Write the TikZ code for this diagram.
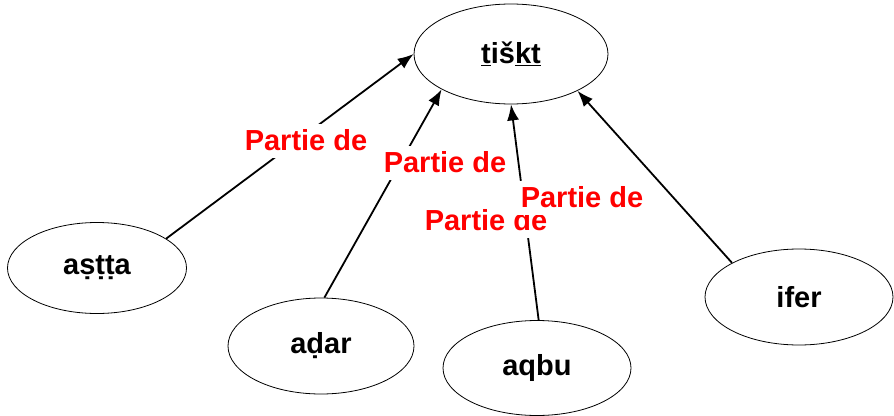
\documentclass[tikz,border=0pt]{standalone}
\usepackage{fontspec}
\setmainfont{Liberation Sans}
\usetikzlibrary{shapes.geometric,arrows.meta}

\begin{document}
\begin{tikzpicture}[x=1pt,y=-1pt,>={Latex[length=16pt,width=12pt]},
  mot/.style={ellipse,draw,line width=0.8pt,inner sep=0pt,font=\fontsize{29}{34}\selectfont\bfseries},
  lien/.style={->,line width=1.8pt},
  rel/.style={fill=white,text=red,inner xsep=4pt,inner ysep=5pt,text depth=3pt,font=\fontsize{29}{34}\selectfont\bfseries}]

\useasboundingbox (0,0) rectangle (894,415);

\node[mot,minimum width=194pt,minimum height=100pt] (tiskt) at (511,54) {\underline{t}iš\underline{kt}};
\node[mot,minimum width=179pt,minimum height=91pt] (astta) at (97,268) {aṣṭṭa};
\node[mot,minimum width=186pt,minimum height=96pt] (adar) at (321,346) {aḍar};
\node[mot,minimum width=188pt,minimum height=95pt] (aqbu) at (537,368) {aqbu};
\node[mot,minimum width=188pt,minimum height=96pt] (ifer) at (799,297) {ifer};

\draw[lien] (astta.23) -- (tiskt.180);
\draw[lien] (adar.86) -- (tiskt.207);
\draw[lien] (aqbu.88) -- (tiskt.270);
\draw[lien] (ifer.153) -- (tiskt.331);

\node[rel] (rel1) at (306,141) {Partie de};
\node[rel] (rel2) at (445,163) {Partie de};
\node[rel] (rel3) at (486,221) {Partie de};
\node[rel] (rel4) at (582,198) {Partie de};

\end{tikzpicture}
\end{document}
